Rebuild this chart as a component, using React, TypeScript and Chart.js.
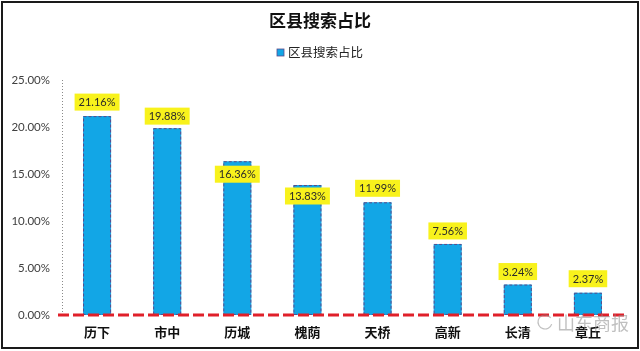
import React, { useEffect, useRef } from "react";
import { Chart, registerables } from "chart.js";

Chart.register(...registerables);

const chartTitle = "区县搜索占比";
const seriesName = "区县搜索占比";
const categories = ["历下", "市中", "历城", "槐荫", "天桥", "高新", "长清", "章丘"];
const shares = [21.16, 19.88, 16.36, 13.83, 11.99, 7.56, 3.24, 2.37];
const yTicks = [0, 5, 10, 15, 20, 25];
const watermark = "山东商报";

const BAR_COLOR = "#12a6e6";

const decorPlugin = {
  id: "decor",
  beforeDraw(chart: any) {
    const { ctx, width, height } = chart;
    ctx.save();
    ctx.fillStyle = "#ffffff";
    ctx.fillRect(0, 0, width, height);
    ctx.restore();
  },
  beforeDatasetsDraw(chart: any) {
    const { ctx, chartArea } = chart;
    const yScale = chart.scales.y;
    ctx.save();
    // dotted y axis line
    ctx.strokeStyle = "#8a8a8a";
    ctx.lineWidth = 1;
    ctx.setLineDash([1, 2]);
    ctx.beginPath();
    ctx.moveTo(chartArea.left + 0.5, yScale.getPixelForValue(25));
    ctx.lineTo(chartArea.left + 0.5, yScale.getPixelForValue(0));
    ctx.stroke();
    ctx.restore();
  },
  afterDatasetsDraw(chart: any, _args: any, opts: any) {
    const { ctx, chartArea } = chart;
    const meta = chart.getDatasetMeta(0);
    const ds = chart.data.datasets[0];
    const yScale = chart.scales.y;
    ctx.save();
    // dashed bar outlines
    meta.data.forEach((el: any) => {
      const { x, y, base, width } = el.getProps(["x", "y", "base", "width"], true);
      ctx.setLineDash([3, 2]);
      ctx.strokeStyle = "#5a4c8c";
      ctx.lineWidth = 1;
      ctx.strokeRect(x - width / 2 + 0.5, y + 0.5, width - 1, base - y - 1);
    });
    // red dashed zero line
    const y0 = yScale.getPixelForValue(0);
    ctx.setLineDash([11, 4]);
    ctx.strokeStyle = "#e0202a";
    ctx.lineWidth = 3;
    ctx.beginPath();
    ctx.moveTo(chartArea.left - 4, y0);
    ctx.lineTo(chartArea.right + 3, y0);
    ctx.stroke();
    ctx.setLineDash([]);
    // value labels
    ctx.font = "11px Lato, 'Liberation Sans', sans-serif";
    ctx.textAlign = "center";
    ctx.textBaseline = "middle";
    meta.data.forEach((el: any, i: number) => {
      const { x, y } = el.getProps(["x", "y"], true);
      const text = (ds.data[i] as number).toFixed(2) + "%";
      const cy = y + (opts.shifts[i] || -14);
      const tw = ctx.measureText(text).width;
      const bw = tw + 8;
      const bh = 17;
      ctx.fillStyle = "#f8f21c";
      ctx.fillRect(x - bw / 2, cy - bh / 2, bw, bh);
      ctx.fillStyle = "#2a2a2a";
      ctx.fillText(text, x, cy + 0.5);
    });
    ctx.restore();
  },
  afterDraw(chart: any) {
    const { ctx, width } = chart;
    ctx.save();
    // title
    ctx.fillStyle = "#111111";
    ctx.textAlign = "center";
    ctx.textBaseline = "middle";
    ctx.font = "bold 17px 'Noto Sans CJK SC', sans-serif";
    ctx.fillText(chartTitle, width / 2, 21);
    // legend
    ctx.font = "12.5px 'Noto Sans CJK SC', sans-serif";
    const tw = ctx.measureText(seriesName).width;
    const total = 7 + 4 + tw;
    const lx = width / 2 - total / 2;
    ctx.fillStyle = BAR_COLOR;
    ctx.fillRect(lx, 49, 7, 7);
    ctx.strokeStyle = "#5a4c8c";
    ctx.lineWidth = 0.8;
    ctx.strokeRect(lx, 49, 7, 7);
    ctx.fillStyle = "#222222";
    ctx.textAlign = "left";
    ctx.fillText(seriesName, lx + 11, 52);
    // watermark
    ctx.font = "18px 'Noto Sans CJK SC', sans-serif";
    ctx.fillStyle = "rgba(140,140,140,0.55)";
    ctx.textAlign = "left";
    ctx.fillText(watermark, 557, 323);
    ctx.strokeStyle = "rgba(140,140,140,0.55)";
    ctx.lineWidth = 1.2;
    ctx.beginPath();
    ctx.arc(545, 322, 7, 0.3, Math.PI * 1.8);
    ctx.stroke();
    // frame
    ctx.strokeStyle = "#1a1a1a";
    ctx.lineWidth = 2;
    ctx.strokeRect(2, 2, 636, 346);
    ctx.restore();
  },
};

export default function App() {
  const ref = useRef<HTMLCanvasElement | null>(null);

  useEffect(() => {
    if (!ref.current) return;
    const chart = new Chart(ref.current, {
      type: "bar",
      data: {
        labels: categories,
        datasets: [
          {
            label: seriesName,
            data: shares,
            backgroundColor: BAR_COLOR,
            borderWidth: 0,
            barPercentage: 0.4,
            categoryPercentage: 1.0,
          },
        ],
      },
      options: {
        responsive: false,
        animation: false,
        layout: { padding: { top: 80, right: 17, bottom: 0, left: 0 } },
        plugins: {
          legend: { display: false },
          title: { display: false },
          tooltip: { enabled: false },
          decor: { shifts: [-14, -12, 13, 11, -14, -13, -13, -14] },
        } as any,
        scales: {
          x: {
            grid: { display: false, drawTicks: false },
            border: { display: false },
            ticks: {
              padding: 9,
              color: "#111111",
              font: { family: "'Noto Sans CJK SC', sans-serif", size: 13, weight: "bold" },
            },
            afterFit(scale: any) {
              scale.height = 36;
            },
          },
          y: {
            min: 0,
            max: 25,
            grid: { display: false, drawTicks: false },
            border: { display: false },
            afterBuildTicks(scale: any) {
              scale.ticks = yTicks.map((v) => ({ value: v }));
            },
            ticks: {
              padding: 12,
              color: "#404040",
              font: { family: "Lato, 'Liberation Sans', sans-serif", size: 11.5 },
              callback: (v: any) => Number(v).toFixed(2) + "%",
            },
            afterFit(scale: any) {
              scale.width = 62;
            },
          },
        },
      },
      plugins: [decorPlugin],
    });
    return () => chart.destroy();
  }, []);

  return (
    <div style={{ position: "fixed", left: 0, top: 0, width: 640, height: 351, background: "#fff" }}>
      <canvas ref={ref} width={640} height={351} style={{ display: "block" }} />
    </div>
  );
}
